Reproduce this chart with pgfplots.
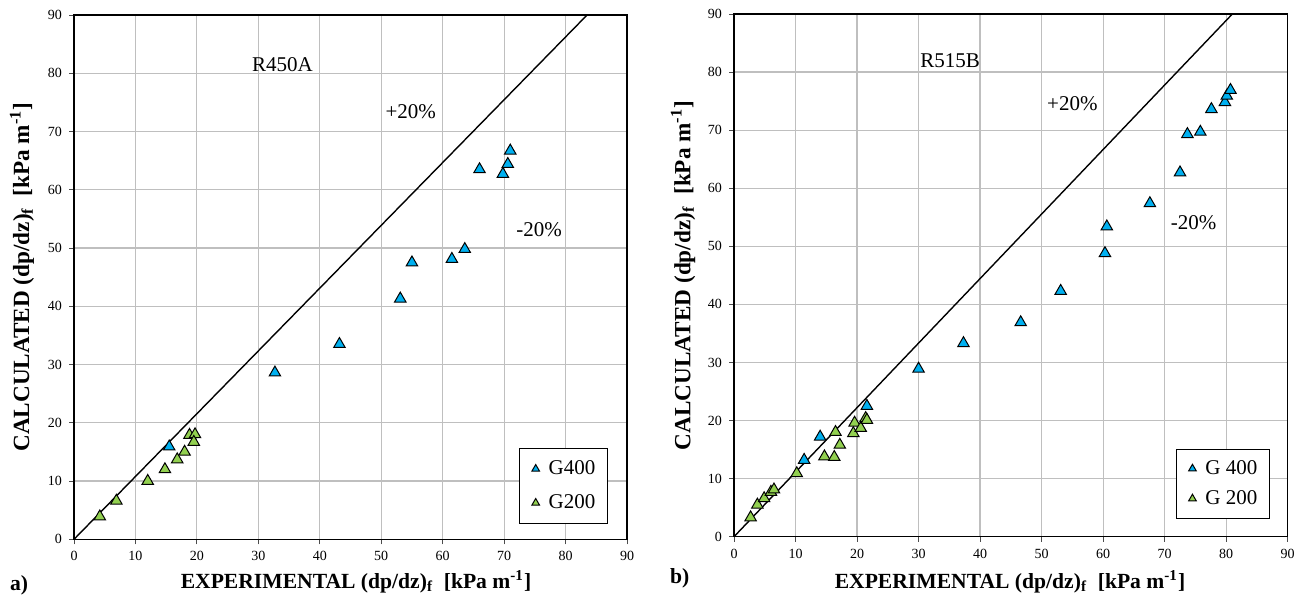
\documentclass[border=0pt]{standalone}
\usepackage{fontspec}
\setmainfont{Liberation Serif}
\usepackage{pgfplots}
\usepackage{pgfplotstable}
\pgfplotsset{compat=1.18}

\definecolor{gblue}{RGB}{0,176,240}
\definecolor{ggreen}{RGB}{146,208,80}

\pgfplotsset{
  dpaxis/.style={
    scale only axis,
    xmin=0, xmax=90, ymin=0, ymax=90,
    xtick={0,10,...,90}, ytick={0,10,...,90},
    grid=major,
    major grid style={draw=black!25, line width=0.6pt},
    axis line style={black, line width=0.7pt},
    tick align=outside, xtick pos=bottom, ytick pos=left,
    major tick length=2.5pt,
    tick style={black!70, line width=0.5pt},
    ticklabel style={font=\fontsize{7}{8}\selectfont},
    /pgf/number format/assume math mode=true,
    legend cell align=left,
    legend style={draw=black, line width=0.6pt, fill=white,
      font=\fontsize{10.5}{12}\selectfont, inner xsep=4pt, inner ysep=4pt,
      row sep=4.5pt},
    legend image code/.code={%
      \path[draw=none, fill=none] (-4pt,0pt) (4.5pt,0pt);
      \draw[#1, mark size=2.2pt] plot coordinates {(0pt,0pt)};},
    clip=false,
  },
  g400/.style={only marks, mark=triangle*, mark size=3.3pt,
    mark options={fill=gblue, draw=black, line width=0.5pt}},
  g200/.style={only marks, mark=triangle*, mark size=3.3pt,
    mark options={fill=ggreen, draw=black, line width=0.5pt}},
}

% measured data, R450A
\pgfplotstableread{
x y
15.5 15.9
32.7 28.6
43.2 33.5
53.1 41.3
55.0 47.5
61.5 48.1
63.6 49.8
66.0 63.5
69.8 62.7
70.6 64.4
71.0 66.7
}\RfourGfour
\pgfplotstableread{
x y
4.2 3.9
6.9 6.6
12.0 10.0
14.8 12.0
16.8 13.7
18.0 15.0
18.8 17.9
19.7 18.0
19.5 16.7
}\RfourGtwo
% measured data, R515B
\pgfplotstableread{
x y
11.4 13.2
14.0 17.2
21.6 22.5
30.0 28.9
37.3 33.3
46.6 36.9
53.1 42.3
60.3 48.8
60.6 53.4
67.6 57.4
72.5 62.7
73.7 69.3
75.8 69.7
77.6 73.6
79.8 74.8
80.1 75.9
80.7 76.9
}\RfiveGfour
\pgfplotstableread{
x y
2.7 3.3
3.8 5.5
4.9 6.6
6.0 7.7
6.5 8.1
10.2 10.9
14.7 13.8
16.3 13.7
16.5 18.0
17.2 15.8
19.4 17.8
19.6 19.6
20.6 18.7
21.4 20.4
21.6 20.1
}\RfiveGtwo

\begin{document}
\begin{tikzpicture}
\useasboundingbox (0,0) rectangle (653.5pt,300.5pt);

% ---- a) R450A
\begin{axis}[dpaxis,
  at={(37pt,30.85pt)}, anchor=south west,
  width=276.5pt, height=262.15pt,
  legend style={at={(rel axis cs:0.9656,0.0292)}, anchor=south east},
]
\addplot[black, line width=0.7pt, forget plot] coordinates {(0,0) (83.5,90)};
\addplot[g400] table {\RfourGfour};
\addlegendentry{G400}
\addplot[g200] table {\RfourGtwo};
\addlegendentry{G200}
\node[font=\fontsize{10.5}{12}\selectfont, anchor=east] at (axis cs:40,81.5) {R450A};
\node[font=\fontsize{10.5}{12}\selectfont] at (axis cs:54.8,73.4) {+20\%};
\node[font=\fontsize{10.5}{12}\selectfont] at (axis cs:75.7,53.1) {-20\%};
\end{axis}

% ---- b) R515B
\begin{axis}[dpaxis,
  at={(367pt,32.15pt)}, anchor=south west,
  width=276.85pt, height=261.35pt,
  legend style={at={(rel axis cs:0.968,0.0344)}, anchor=south east,
    row sep=2.5pt, inner ysep=3.5pt},
]
\addplot[black, line width=0.7pt, forget plot] coordinates {(0,0) (81,90)};
\addplot[g400] table {\RfiveGfour};
\addlegendentry{G 400}
\addplot[g200] table {\RfiveGtwo};
\addlegendentry{G 200}
\node[font=\fontsize{10.5}{12}\selectfont, anchor=east] at (axis cs:41.1,82) {R515B};
\node[font=\fontsize{10.5}{12}\selectfont] at (axis cs:55,74.5) {+20\%};
\node[font=\fontsize{10.5}{12}\selectfont] at (axis cs:74.7,54.0) {-20\%};
\end{axis}

% axis titles
\begin{scope}[every node/.style={font=\fontsize{10.8}{12}\selectfont\bfseries}]
\node[rotate=90, font=\fontsize{11.6}{13}\selectfont\bfseries] at (11pt,162pt) {CALCULATED (dp/dz)\textsubscript{f}\enspace[kPa m\textsuperscript{-1}]};
\node[rotate=90, font=\fontsize{11.6}{13}\selectfont\bfseries] at (341.5pt,162.75pt) {CALCULATED (dp/dz)\textsubscript{f}\enspace[kPa m\textsuperscript{-1}]};
\node at (178pt,9.5pt) {EXPERIMENTAL (dp/dz)\textsubscript{f}\enspace[kPa m\textsuperscript{-1}]};
\node at (505pt,9.5pt) {EXPERIMENTAL (dp/dz)\textsubscript{f}\enspace[kPa m\textsuperscript{-1}]};
\node[anchor=west] at (1.5pt,8pt) {a)};
\node[anchor=west] at (331.5pt,11.5pt) {b)};
\end{scope}
\end{tikzpicture}
\end{document}
